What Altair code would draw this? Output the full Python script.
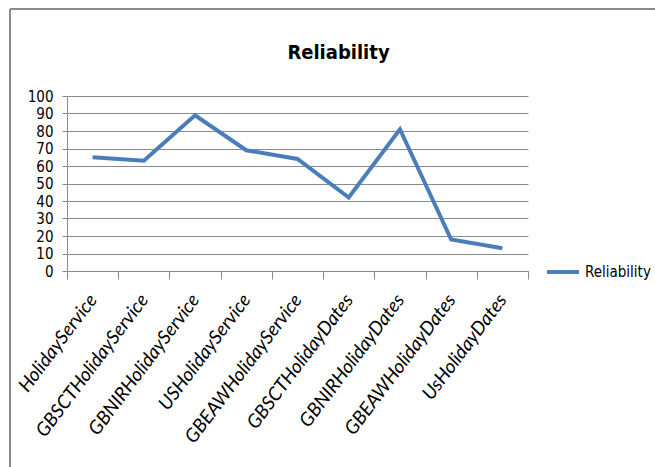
import altair as alt
import pandas as pd

categories = ["HolidayService", "GBSCTHolidayService", "GBNIRHolidayService",
              "USHolidayService", "GBEAWHolidayService", "GBSCTHolidayDates",
              "GBNIRHolidayDates", "GBEAWHolidayDates", "UsHolidayDates"]
values = [65, 63, 89, 69, 64, 42, 81, 18, 13]
series = ["Reliability"] * len(categories)

df = pd.DataFrame({"category": categories, "value": values, "series": series})

FONT = "DejaVu Sans Condensed, sans-serif"
XFONT = "Lato, DejaVu Sans Condensed, sans-serif"
GRAY = "#8a8a8a"

line = alt.Chart(df).mark_line(strokeWidth=4, color="#4a7ebb").encode(
    x=alt.X("category:N", sort=categories, bandPosition=0.5,
            scale=alt.Scale(type="band", paddingInner=0, paddingOuter=0),
            axis=alt.Axis(title=None, labelAngle=-53, labelFont=XFONT, labelFontSize=19,
                          labelFontStyle="italic", labelColor="black", tickBand="extent",
                          tickSize=8, tickColor=GRAY, domainColor=GRAY, labelPadding=17,
                          labelLimit=400, grid=False)),
    y=alt.Y("value:Q", scale=alt.Scale(domain=[0, 100], nice=False),
            axis=alt.Axis(title=None, values=list(range(0, 101, 10)), labelFont=FONT,
                          labelFontSize=15, labelColor="black", tickSize=5, tickColor=GRAY,
                          domainColor=GRAY, gridColor=GRAY, labelPadding=9)),
    color=alt.Color("series:N", scale=alt.Scale(range=["#4a7ebb"]),
                    legend=alt.Legend(title=None, orient="none", legendX=478, legendY=158,
                                      symbolType="stroke", symbolStrokeWidth=4, symbolSize=1024,
                                      labelFont=FONT, labelFontSize=15, labelColor="black")),
)

frame_top = alt.Chart(df).mark_rule(color=GRAY, strokeWidth=2).encode(
    x=alt.value(-57), x2=alt.value(620), y=alt.value(-87))
frame_left = alt.Chart(df).mark_rule(color=GRAY, strokeWidth=2).encode(
    x=alt.value(-57), y=alt.value(-87), y2=alt.value(400))

chart = alt.layer(frame_top, frame_left, line).properties(
    width=461, height=175,
    padding={"left": 67, "top": 96, "right": 127, "bottom": 196},
    autosize=alt.AutoSizeParams(type="none"),
    title=alt.TitleParams("Reliability", font=FONT, fontSize=20, fontWeight="bold",
                          color="black", anchor="middle", dx=41, dy=55, offset=0),
).configure_view(stroke=None)

chart.save("out.html", embed_options={"renderer": "svg", "actions": False})
